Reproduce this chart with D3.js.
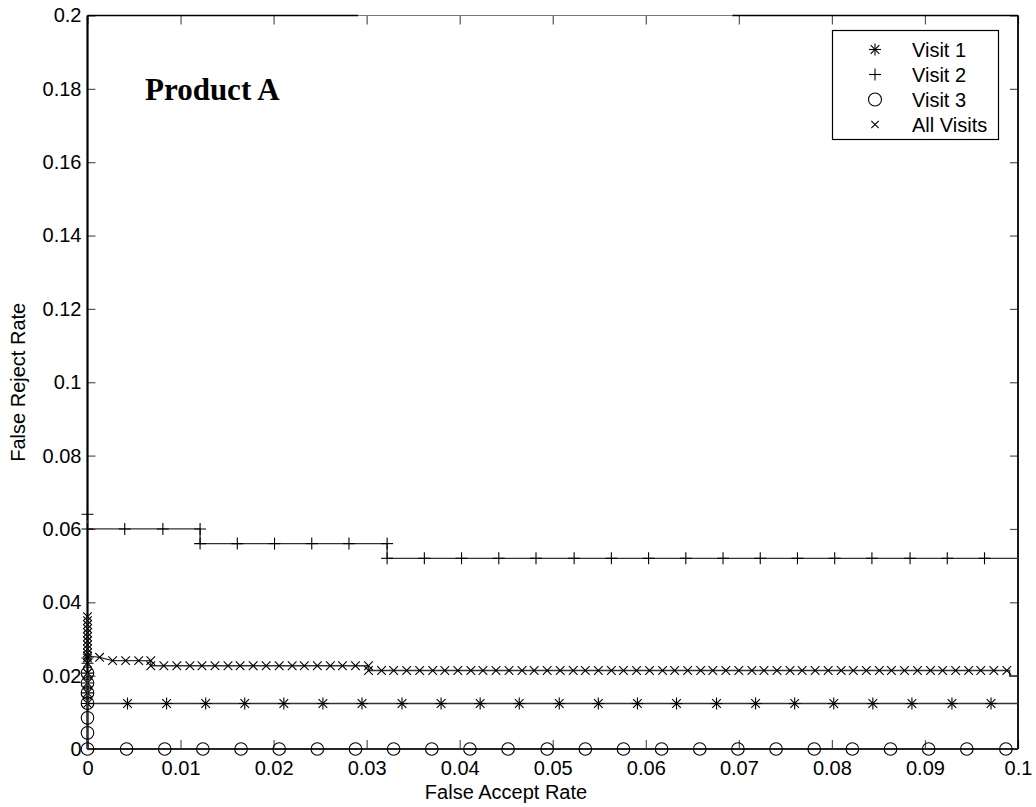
<!DOCTYPE html>
<html>
<head>
<meta charset="utf-8">
<script src="https://cdn.jsdelivr.net/npm/d3@7"></script>
<style>
  html, body { margin: 0; padding: 0; background: #fff; }
  svg { display: block; }
  text { font-family: "Liberation Sans", Arial, sans-serif; fill: #000; }
</style>
</head>
<body>
<svg id="chart" width="1036" height="807"></svg>
<script>
// ---- data: false accept rate (x) vs false reject rate (y) ----
const visit1FAR = [0, 0, 0, 0, 0, 0,
  0.0043, 0.0085, 0.0127, 0.0169, 0.0211, 0.0253, 0.0295, 0.0338, 0.0380, 0.0422,
  0.0464, 0.0507, 0.0549, 0.0591, 0.0633, 0.0676, 0.0718, 0.0760, 0.0802, 0.0844,
  0.0886, 0.0929, 0.0971];
const visit1FRR = [0.0248, 0.0234, 0.0207, 0.0180, 0.0153, 0.0124,
  0.0124, 0.0124, 0.0124, 0.0124, 0.0124, 0.0124, 0.0124, 0.0124, 0.0124, 0.0124,
  0.0124, 0.0124, 0.0124, 0.0124, 0.0124, 0.0124, 0.0124, 0.0124, 0.0124, 0.0124,
  0.0124, 0.0124, 0.0124];

const visit2FAR = [0, 0, 0.0040, 0.0081, 0.0121,
  0.0121, 0.0161, 0.0201, 0.0241, 0.0281, 0.0322,
  0.0322, 0.0362, 0.0402, 0.0442, 0.0482, 0.0523, 0.0563, 0.0603, 0.0643, 0.0683,
  0.0723, 0.0763, 0.0803, 0.0843, 0.0884, 0.0924, 0.0964];
const visit2FRR = [0.064, 0.060, 0.060, 0.060, 0.060,
  0.056, 0.056, 0.056, 0.056, 0.056, 0.056,
  0.052, 0.052, 0.052, 0.052, 0.052, 0.052, 0.052, 0.052, 0.052, 0.052,
  0.052, 0.052, 0.052, 0.052, 0.052, 0.052, 0.052];

const visit3FAR = [0, 0, 0, 0, 0, 0, 0,
  0.0042, 0.0083, 0.0124, 0.0165, 0.0206, 0.0247, 0.0288, 0.0329, 0.0370, 0.0411,
  0.0452, 0.0494, 0.0535, 0.0576, 0.0617, 0.0658, 0.0699, 0.0740, 0.0781, 0.0822,
  0.0863, 0.0904, 0.0945, 0.0987];
const visit3FRR = [0.0207, 0.0180, 0.0153, 0.0125, 0.0085, 0.0044, 0,
  0, 0, 0, 0, 0, 0, 0, 0, 0, 0,
  0, 0, 0, 0, 0, 0, 0, 0, 0, 0,
  0, 0, 0, 0];

const allFAR = [0, 0, 0, 0, 0, 0, 0, 0, 0, 0, 0,
  0.0013, 0.0027, 0.0041, 0.0055, 0.0068,
  0.0068, 0.0082, 0.0096, 0.0110, 0.0123, 0.0137, 0.0151, 0.0164, 0.0178, 0.0192,
  0.0206, 0.0220, 0.0233, 0.0247, 0.0261, 0.0274, 0.0288, 0.0302,
  0.0302, 0.0316, 0.0329, 0.0343, 0.0357, 0.0371, 0.0384, 0.0398, 0.0412, 0.0425,
  0.0439, 0.0453, 0.0467, 0.0480, 0.0494, 0.0508, 0.0522, 0.0535, 0.0549, 0.0563,
  0.0576, 0.0590, 0.0604, 0.0618, 0.0631, 0.0645, 0.0659, 0.0672, 0.0686, 0.0700,
  0.0714, 0.0727, 0.0741, 0.0755, 0.0768, 0.0782, 0.0796, 0.0810, 0.0823, 0.0837,
  0.0851, 0.0864, 0.0878, 0.0892, 0.0906, 0.0919, 0.0933, 0.0947, 0.0960, 0.0974,
  0.0988];
const allFRR = [0.0361, 0.0350, 0.0339, 0.0328, 0.0317, 0.0306, 0.0295, 0.0284, 0.0273, 0.0262, 0.0254,
  0.0250, 0.0241, 0.0241, 0.0241, 0.0241,
  0.0227, 0.0227, 0.0227, 0.0227, 0.0227, 0.0227, 0.0227, 0.0227, 0.0227, 0.0227,
  0.0227, 0.0227, 0.0227, 0.0227, 0.0227, 0.0227, 0.0227, 0.0227,
  0.0214, 0.0214, 0.0214, 0.0214, 0.0214, 0.0214, 0.0214, 0.0214, 0.0214, 0.0214,
  0.0214, 0.0214, 0.0214, 0.0214, 0.0214, 0.0214, 0.0214, 0.0214, 0.0214, 0.0214,
  0.0214, 0.0214, 0.0214, 0.0214, 0.0214, 0.0214, 0.0214, 0.0214, 0.0214, 0.0214,
  0.0214, 0.0214, 0.0214, 0.0214, 0.0214, 0.0214, 0.0214, 0.0214, 0.0214, 0.0214,
  0.0214, 0.0214, 0.0214, 0.0214, 0.0214, 0.0214, 0.0214, 0.0214, 0.0214, 0.0214,
  0.0214];
// the curves continue past their last marker to the axis limit
const allTailFAR = [0.0991, 0.0991, 0.1];
const allTailFRR = [0.0214, 0.0199, 0.0199];

const seriesNames = ["Visit 1", "Visit 2", "Visit 3", "All Visits"];
const xTicks = [0, 0.01, 0.02, 0.03, 0.04, 0.05, 0.06, 0.07, 0.08, 0.09, 0.1];
const xTickLabels = ["0", "0.01", "0.02", "0.03", "0.04", "0.05", "0.06", "0.07", "0.08", "0.09", "0.1"];
const yTicks = [0, 0.02, 0.04, 0.06, 0.08, 0.1, 0.12, 0.14, 0.16, 0.18, 0.2];
const yTickLabels = ["0", "0.02", "0.04", "0.06", "0.08", "0.1", "0.12", "0.14", "0.16", "0.18", "0.2"];

// ---- layout ----
const svg = d3.select("#chart");
const L = 87.5, R = 1018, T = 15.5, B = 749;
const FONT = "20px";
const x = d3.scaleLinear().domain([0, 0.1]).range([L, R]);
const y = d3.scaleLinear().domain([0, 0.2]).range([B, T]);

svg.append("defs").append("clipPath").attr("id", "plotclip")
  .append("rect").attr("x", L - 8).attr("y", T).attr("width", R - L + 8).attr("height", B - T + 8);

// axes with inward ticks
const fmtX = d => xTickLabels[xTicks.indexOf(d)];
const fmtY = d => yTickLabels[yTicks.indexOf(d)];

const gx = svg.append("g").attr("transform", `translate(0,${B})`)
  .call(d3.axisBottom(x).tickValues(xTicks).tickFormat(fmtX).tickSize(-9).tickPadding(12));
const gy = svg.append("g").attr("transform", `translate(${L},0)`)
  .call(d3.axisLeft(y).tickValues(yTicks).tickFormat(fmtY).tickSize(-8).tickPadding(6));
const gxTop = svg.append("g").attr("transform", `translate(0,${T})`)
  .call(d3.axisTop(x).tickValues(xTicks).tickFormat("").tickSize(-9));
const gyRight = svg.append("g").attr("transform", `translate(${R},0)`)
  .call(d3.axisRight(y).tickValues(yTicks).tickFormat("").tickSize(-8));

[gx, gy, gxTop, gyRight].forEach(g => {
  g.select(".domain").remove();
  g.selectAll(".tick line").attr("stroke", "#555").attr("stroke-width", 1.2);
  g.selectAll(".tick text").style("font-size", FONT).style("font-family", '"Liberation Sans", Arial, sans-serif').attr("fill", "#000");
});

// plot box
const box = svg.append("g").attr("fill", "none");
box.append("line").attr("x1", L).attr("x2", L).attr("y1", T).attr("y2", B).attr("stroke", "#000").attr("stroke-width", 2.2);
box.append("line").attr("x1", L).attr("x2", R).attr("y1", B).attr("y2", B).attr("stroke", "#000").attr("stroke-width", 2.2);
box.append("line").attr("x1", R).attr("x2", R).attr("y1", T).attr("y2", B).attr("stroke", "#000").attr("stroke-width", 1.8);
box.append("line").attr("x1", L).attr("x2", x(0.0291)).attr("y1", T).attr("y2", T).attr("stroke", "#000").attr("stroke-width", 1.6);
box.append("line").attr("x1", x(0.0291)).attr("x2", x(0.0693)).attr("y1", T).attr("y2", T).attr("stroke", "#777").attr("stroke-width", 1.2);
box.append("line").attr("x1", x(0.0693)).attr("x2", R).attr("y1", T).attr("y2", T).attr("stroke", "#000").attr("stroke-width", 1.6);

// marker glyphs
function drawMarker(g, type, cx, cy, s) {
  const st = { stroke: "#000", "stroke-width": 1.1, fill: "none" };
  const line = (x1, y1, x2, y2) => {
    const l = g.append("line").attr("x1", cx + x1).attr("y1", cy + y1).attr("x2", cx + x2).attr("y2", cy + y2);
    Object.entries(st).forEach(([k, v]) => l.attr(k, v));
  };
  if (type === "star") {
    const d = s * 0.72;
    line(0, -s, 0, s); line(-s, 0, s, 0);
    line(-d, -d, d, d); line(-d, d, d, -d);
  } else if (type === "plus") {
    line(0, -s, 0, s); line(-s, 0, s, 0);
  } else if (type === "circle") {
    const c = g.append("circle").attr("cx", cx).attr("cy", cy).attr("r", s);
    Object.entries(st).forEach(([k, v]) => c.attr(k, v));
  } else if (type === "cross") {
    line(-s, -s, s, s); line(-s, s, s, -s);
  }
}

const series = [
  { name: seriesNames[0], far: visit1FAR, frr: visit1FRR, marker: "star", size: 6, tail: [[0.1, 0.0124]] },
  { name: seriesNames[1], far: visit2FAR, frr: visit2FRR, marker: "plus", size: 6, tail: [[0.1, 0.052]] },
  { name: seriesNames[2], far: visit3FAR, frr: visit3FRR, marker: "circle", size: 6.3, tail: [[0.1, 0]] },
  { name: seriesNames[3], far: allFAR, frr: allFRR, marker: "cross", size: 4.3,
    tail: allTailFAR.map((v, i) => [v, allTailFRR[i]]) }
];

const plot = svg.append("g").attr("clip-path", "url(#plotclip)");
const lineGen = d3.line().x(d => x(d[0])).y(d => y(d[1]));

series.forEach(s => {
  const pts = s.far.map((v, i) => [v, s.frr[i]]);
  plot.append("path")
    .attr("d", lineGen(pts.concat(s.tail)))
    .attr("fill", "none").attr("stroke", "#333").attr("stroke-width", 1.3);
  const mg = plot.append("g");
  pts.forEach(p => drawMarker(mg, s.marker, x(p[0]), y(p[1]), s.size));
});

// title inside plot
svg.append("text").attr("x", 145).attr("y", 100)
  .style("font-family", '"Liberation Serif", "Times New Roman", serif')
  .style("font-weight", "bold").style("font-size", "31px")
  .text("Product A");

// axis titles
svg.append("text").attr("x", 506).attr("y", 799).attr("text-anchor", "middle")
  .style("font-size", FONT).text("False Accept Rate");
svg.append("text").attr("transform", `translate(25,${(T + B) / 2}) rotate(-90)`)
  .attr("text-anchor", "middle").style("font-size", FONT).text("False Reject Rate");

// legend
const lg = svg.append("g");
lg.append("rect").attr("x", 832.5).attr("y", 30.5).attr("width", 166).attr("height", 109)
  .attr("fill", "#fff").attr("stroke", "#000").attr("stroke-width", 1.2);
const legendSizes = [6, 6, 6.5, 3.7];
series.forEach((s, i) => {
  const cy = 49.5 + i * 25;
  drawMarker(lg, s.marker, 875, cy, legendSizes[i]);
  lg.append("text").attr("x", 912).attr("y", cy).attr("dy", "0.36em")
    .style("font-size", FONT).text(s.name);
});
</script>
</body>
</html>
